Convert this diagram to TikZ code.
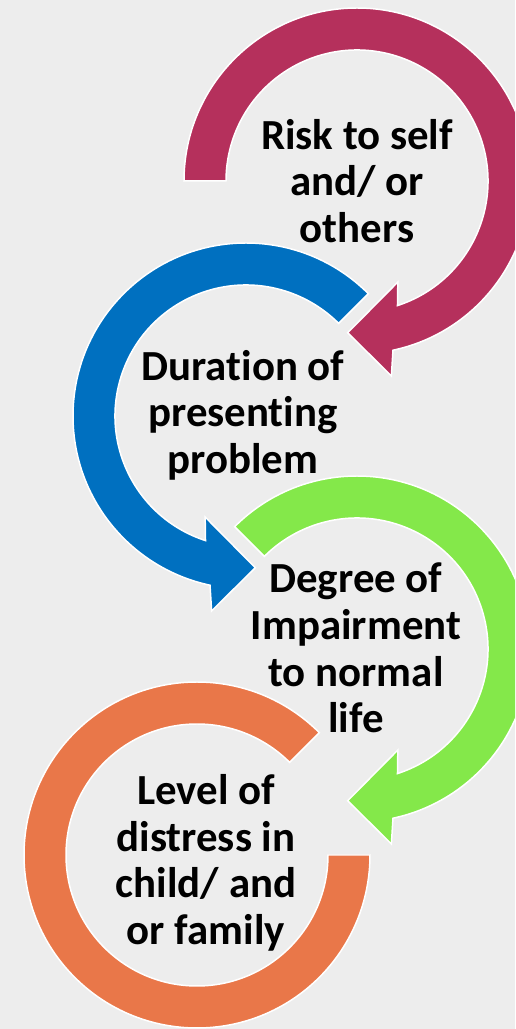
\documentclass[tikz,border=0pt]{standalone}
\usepackage{fontspec}
\setmainfont{Carlito}[Ligatures=NoCommon]
\definecolor{bgGray}{HTML}{EDEDED}
\definecolor{riskRed}{HTML}{B5305C}
\definecolor{durBlue}{HTML}{0070C0}
\definecolor{degGreen}{HTML}{84E84A}
\definecolor{levOrange}{HTML}{E97749}
\begin{document}
\begin{tikzpicture}[x=0.02cm, y=0.02cm,
		ring/.style={draw=white, line width=0.85pt},
		lbl/.style={align=center, inner sep=0pt, font=\bfseries\fontsize{24.4}{26.5}\selectfont}]
	\useasboundingbox (0, 0) rectangle (515, 1029);
	\clip (0, 0) rectangle (515, 1029);
	\fill[bgGray]	(0, 0) rectangle (515, 1029);

	\begin{scope}[shift={(357, 848)}]
		\filldraw[ring, fill=riskRed]	(180:173) arc[start angle=180, end angle=-78, radius=173] -- (-80:198) -- (-93.5:152) -- (-68:109) -- (-72:131) arc[start angle=-72, end angle=180, radius=131] -- cycle;
	\end{scope}

	\begin{scope}[shift={(246, 613)}]
		\filldraw[ring, fill=durBlue]	(45:173) arc[start angle=45, end angle=258, radius=173] -- (260:198) -- (273.5:152) -- (248:109) -- (252:131) arc[start angle=252, end angle=45, radius=131] -- cycle;
	\end{scope}

	\begin{scope}[shift={(357, 380)}]
		\filldraw[ring, fill=degGreen]	(135:173) arc[start angle=135, end angle=-78, radius=173] -- (-80:198) -- (-93.5:152) -- (-68:109) -- (-72:131) arc[start angle=-72, end angle=135, radius=131] -- cycle;
	\end{scope}

	\begin{scope}[shift={(197, 174)}]
		\filldraw[ring, fill=levOrange]	(45:173) arc[start angle=45, end angle=360, radius=173] -- (0:131) arc[start angle=360, end angle=45, radius=131] -- cycle;
	\end{scope}

	\node[lbl] (risk)		at (357, 848) {Risk to self\\and/ or\\others};
	\node[lbl] (duration)	at (243, 614) {Duration of\\presenting\\problem};
	\node[lbl] (degree)		at (356, 381) {Degree of\\Impairment\\to normal\\life};
	\node[lbl] (distress)	at (206, 166) {Level of\\distress in\\child/ and\\or family};
\end{tikzpicture}
\end{document}
